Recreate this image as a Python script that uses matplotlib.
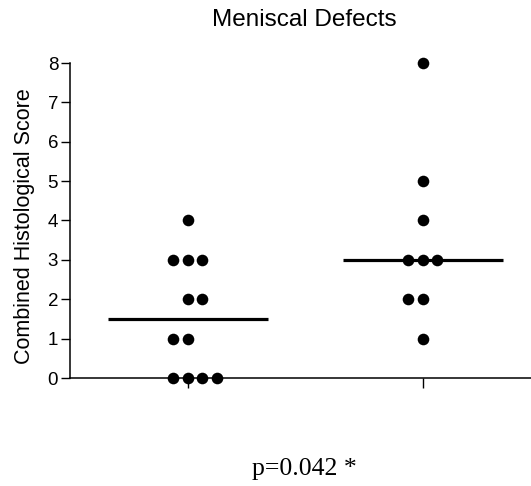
import matplotlib
matplotlib.use('Agg')
import matplotlib.pyplot as plt
import numpy as np

# data
group1_scores = [4, 3, 3, 3, 2, 2, 1, 1, 0, 0, 0, 0]
group1_offsets = [0, -1, 0, 1, 0, 1, -1, 0, -1, 0, 1, 2]
group2_scores = [8, 5, 4, 3, 3, 3, 2, 2, 1]
group2_offsets = [0, 0, 0, -1, 0, 1, -1, 0, 0]
medians = [1.5, 3.0]
y_ticks = [0, 1, 2, 3, 4, 5, 6, 7, 8]

plt.rcParams['font.family'] = ['Liberation Sans', 'DejaVu Sans']

fig = plt.figure(figsize=(5.31, 4.86), dpi=100)
ax = fig.add_axes([70 / 531, 1 - 378 / 486, 1 - 70 / 531, (378 - 63) / 486])

step = 0.062  # horizontal spacing of stacked dots
for pos, scores, offs in [(1, group1_scores, group1_offsets),
                          (2, group2_scores, group2_offsets)]:
    xs = pos + np.array(offs) * step
    ax.scatter(xs, scores, s=70, color='black', zorder=3, clip_on=False,
               linewidths=0)

for pos, med in zip([1, 2], medians):
    ax.plot([pos - 0.34, pos + 0.34], [med, med], color='black', lw=2.3,
            solid_capstyle='butt', zorder=2)

ax.set_xlim(0.5, 2.46)
ax.set_ylim(0, 8)
ax.set_yticks(y_ticks)
ax.set_xticks([1, 2])
ax.set_xticklabels(['', ''])
ax.tick_params(axis='y', length=6.5, width=1, labelsize=13.5, pad=2)
ax.tick_params(axis='x', length=7, width=1)

for s in ['top', 'right']:
    ax.spines[s].set_visible(False)
for s in ['left', 'bottom']:
    ax.spines[s].set_linewidth(1.1)

fig.text(25 / 531, 1 - 226.5 / 486, 'Combined Histological Score',
         rotation=90, ha='center', va='center', fontsize=15.5)
fig.text(304.5 / 531, 1 - 20 / 486, 'Meniscal Defects', ha='center',
         va='center', fontsize=17.5)
fig.text(304.5 / 531, 1 - 469 / 486, 'p=0.042 *', ha='center',
         va='center', fontsize=18.5, family=['Liberation Serif'])

fig.savefig('out.png', dpi=100)
